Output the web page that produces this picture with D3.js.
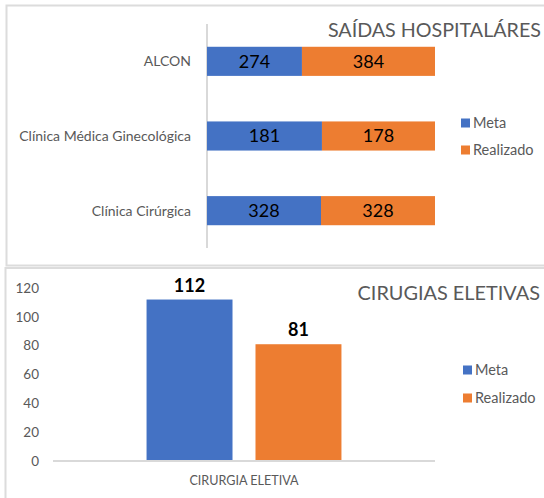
<!DOCTYPE html>
<html>
<head>
<meta charset="utf-8">
<title>Saídas hospitalares e cirurgias eletivas</title>
<script src="https://cdn.jsdelivr.net/npm/d3@7"></script>
<style>
  body { margin: 0; background: #fff; }
  svg text { font-family: Lato, "Liberation Sans", sans-serif; }
</style>
</head>
<body>
<svg id="chart" width="544" height="498"></svg>

<script>
// --- data ---
var categorias = ["ALCON", "Clínica Médica Ginecológica", "Clínica Cirúrgica"];
var meta = [274, 181, 328];
var realizado = [384, 178, 328];

var cirurgiaCategoria = ["CIRURGIA ELETIVA"];
var cirurgiaMeta = [112];
var cirurgiaRealizado = [81];
var cirurgiaTicks = [0, 20, 40, 60, 80, 100, 120];

var series = ["Meta", "Realizado"];
var cores = { "Meta": "#4472C4", "Realizado": "#ED7D31" };

var svg = d3.select("#chart");
var cinza = "#595959";

// chart frames
svg.append("rect").attr("x", 6.5).attr("y", 5.5).attr("width", 560).attr("height", 260)
    .attr("fill", "none").attr("stroke", "#dcdcdc").attr("stroke-width", 2);
svg.append("rect").attr("x", 5.5).attr("y", 268).attr("width", 560).attr("height", 240)
    .attr("fill", "none").attr("stroke", "#dcdcdc").attr("stroke-width", 2);

// ---------- top: 100% stacked horizontal bars ----------
var cima = svg.append("g");

var tabela = categorias.map(function(c, i) {
  var total = meta[i] + realizado[i];
  return { cat: c, Meta: meta[i] / total, Realizado: realizado[i] / total,
           vMeta: meta[i], vRealizado: realizado[i] };
});

var stack = d3.stack().keys(series)(tabela);

var x1 = d3.scaleLinear().domain([0, 1]).range([207, 435]);
var y1 = d3.scaleBand().domain(categorias).range([24, 248])
    .paddingInner(0.61).paddingOuter(0.305);

cima.append("line")
    .attr("x1", x1(0)).attr("x2", x1(0))
    .attr("y1", 24).attr("y2", 248)
    .attr("stroke", "#d9d9d9").attr("stroke-width", 2);

cima.selectAll("g.serie")
  .data(stack)
  .enter().append("g")
    .attr("class", "serie")
    .attr("fill", function(d) { return cores[d.key]; })
  .selectAll("rect")
  .data(function(d) { return d; })
  .enter().append("rect")
    .attr("x", function(d) { return x1(d[0]); })
    .attr("width", function(d) { return x1(d[1]) - x1(d[0]); })
    .attr("y", function(d) { return y1(d.data.cat); })
    .attr("height", y1.bandwidth());

stack.forEach(function(s) {
  cima.selectAll(null)
    .data(s)
    .enter().append("text")
      .attr("x", function(d) { return (x1(d[0]) + x1(d[1])) / 2; })
      .attr("y", function(d) { return y1(d.data.cat) + y1.bandwidth() / 2; })
      .attr("dy", "0.36em")
      .attr("text-anchor", "middle")
      .attr("font-size", 18)
      .attr("fill", "#000")
      .text(function(d) { return s.key === "Meta" ? d.data.vMeta : d.data.vRealizado; });
});

cima.selectAll("text.cat")
  .data(categorias)
  .enter().append("text")
    .attr("class", "cat")
    .attr("x", 191)
    .attr("y", function(d) { return y1(d) + y1.bandwidth() / 2; })
    .attr("dy", "0.35em")
    .attr("text-anchor", "end")
    .attr("font-size", 14)
    .attr("fill", cinza)
    .text(function(d) { return d; });

cima.append("text")
    .attr("x", 541).attr("y", 37)
    .attr("text-anchor", "end")
    .attr("font-size", 19.7)
    .attr("fill", cinza)
    .text("SAÍDAS HOSPITALÁRES");

function legenda(g, x, ys) {
  series.forEach(function(s, i) {
    g.append("rect").attr("x", x).attr("y", ys[i] - 4.5).attr("width", 9).attr("height", 9)
        .attr("fill", cores[s]);
    g.append("text").attr("x", x + 12).attr("y", ys[i]).attr("dy", "0.35em")
        .attr("font-size", 14.5).attr("fill", cinza).text(s);
  });
}
legenda(cima, 461, [123, 150]);

// ---------- bottom: clustered column ----------
var baixo = svg.append("g");

var y2 = d3.scaleLinear().domain([0, 120]).range([461, 288]);
var x2 = d3.scaleBand().domain(cirurgiaCategoria).range([53, 435]).paddingOuter(0.48);
var xs = d3.scaleBand().domain(series).range([0, x2.bandwidth()]).paddingInner(0.211);

var yAxis = d3.axisLeft(y2).tickValues(cirurgiaTicks).tickSize(0).tickPadding(0);
var ya = baixo.append("g").attr("transform", "translate(39,0)").call(yAxis);
ya.select(".domain").remove();
ya.selectAll("text").attr("font-size", 13.5).attr("fill", cinza)
    .style("font-family", "Lato, 'Liberation Sans', sans-serif");

var cirurgia = cirurgiaCategoria.map(function(c, i) {
  return { cat: c, valores: [
    { key: "Meta", v: cirurgiaMeta[i] },
    { key: "Realizado", v: cirurgiaRealizado[i] } ] };
});

var grupos = baixo.selectAll("g.grupo")
  .data(cirurgia)
  .enter().append("g")
    .attr("class", "grupo")
    .attr("transform", function(d) { return "translate(" + x2(d.cat) + ",0)"; });

grupos.selectAll("rect")
  .data(function(d) { return d.valores; })
  .enter().append("rect")
    .attr("x", function(d) { return xs(d.key); })
    .attr("width", xs.bandwidth())
    .attr("y", function(d) { return y2(d.v); })
    .attr("height", function(d) { return y2(0) - y2(d.v); })
    .attr("fill", function(d) { return cores[d.key]; });

grupos.selectAll("text.val")
  .data(function(d) { return d.valores; })
  .enter().append("text")
    .attr("class", "val")
    .attr("x", function(d) { return xs(d.key) + xs.bandwidth() / 2; })
    .attr("y", function(d) { return y2(d.v) - 8; })
    .attr("text-anchor", "middle")
    .attr("font-size", 18)
    .attr("font-weight", "bold")
    .attr("fill", "#000")
    .text(function(d) { return d.v; });

baixo.append("line")
    .attr("x1", 53).attr("x2", 435)
    .attr("y1", y2(0)).attr("y2", y2(0))
    .attr("stroke", "#d9d9d9").attr("stroke-width", 2);

baixo.selectAll("text.xcat")
  .data(cirurgiaCategoria)
  .enter().append("text")
    .attr("class", "xcat")
    .attr("x", function(d) { return x2(d) + x2.bandwidth() / 2; })
    .attr("y", 481)
    .attr("dy", "0.35em")
    .attr("text-anchor", "middle")
    .attr("font-size", 12.6)
    .attr("fill", cinza)
    .text(function(d) { return d; });

baixo.append("text")
    .attr("x", 540).attr("y", 300)
    .attr("text-anchor", "end")
    .attr("font-size", 19.9)
    .attr("fill", cinza)
    .text("CIRUGIAS ELETIVAS");

legenda(baixo, 463, [370, 398]);
</script>
</body>
</html>
